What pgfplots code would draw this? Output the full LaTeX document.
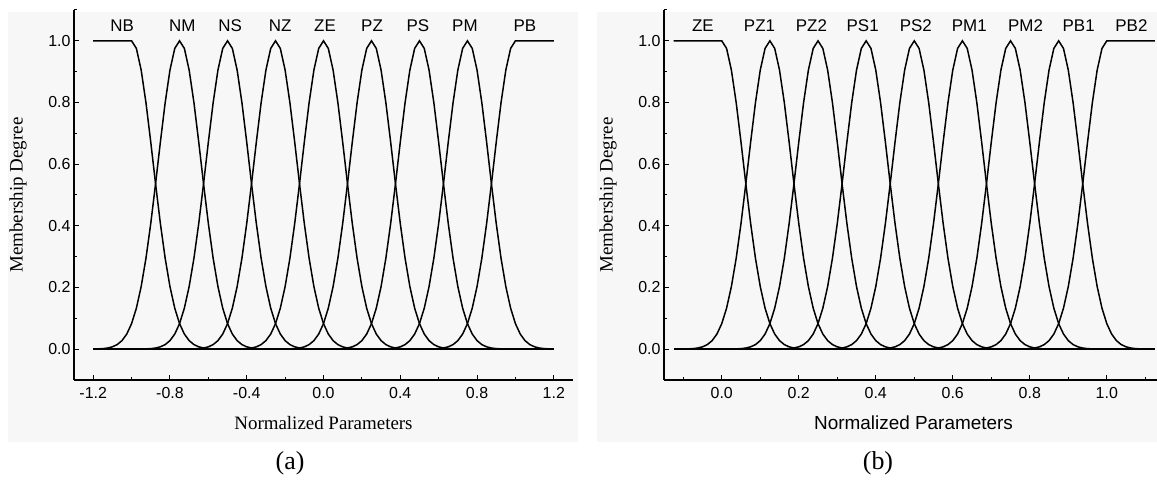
\documentclass[border=0pt]{standalone}
\usepackage{fontspec}
\setmainfont{Liberation Serif}
\setsansfont{Liberation Sans}
\usepackage{pgfplots}
\pgfplotsset{compat=1.18}
\tikzset{lab/.style={font=\sffamily\fontsize{17}{17}\selectfont},
  mfc/.style={black, line width=1.5bp, mark=none}}
\begin{document}
\begin{tikzpicture}
\useasboundingbox (0bp,0bp) rectangle (1157bp,487bp);
\fill[gray!6] (8bp,45bp) rectangle (578bp,475bp);
\fill[gray!6] (597bp,45bp) rectangle (1157bp,475bp);
\pgfplotsset{
  mf/.style={
    width=499bp, height=370bp, scale only axis, anchor=south west,
    ymin=-0.1, ymax=1.1,
    axis x line*=bottom, axis y line*=left,
    axis line style={-, line width=1.3bp},
    x axis line style={-}, y axis line style={-},
    ytick={0,0.2,0.4,0.6,0.8,1.0},
    minor ytick={-0.1,0.1,0.3,0.5,0.7,0.9,1.1},
    tick align=inside,
    major tick length=5bp, minor tick length=3bp,
    tick style={black, line width=1bp},
    /pgf/number format/assume math mode=true,
    /pgf/number format/fixed, /pgf/number format/fixed zerofill, /pgf/number format/precision=1,
    tick label style={font=\sffamily\fontsize{16}{16}\selectfont},
    xticklabel style={yshift=-4bp},
    ylabel={Membership Degree},
    ylabel style={font=\rmfamily\fontsize{19}{19}\selectfont, at={(axis description cs:-0.112,0.5)}, anchor=center},
    xlabel style={at={(axis description cs:0.5,-0.116)}, anchor=center},
    clip=false,
  },
}
% ---------------- panel (a)
\begin{axis}[mf, at={(74bp,107bp)},
  xmin=-1.3, xmax=1.3,
  xtick={-1.2,-0.8,-0.4,0,0.4,0.8,1.2},
  minor xtick={-1.0,-0.6,-0.2,0.2,0.6,1.0},
  xlabel={Normalized Parameters},
  xlabel style={font=\rmfamily\fontsize{19}{19}\selectfont},
]
\addplot[black, line width=2.6bp] coordinates {(-1.2,0) (1.2,0)};
% NB
\addplot[mfc] coordinates {(-1.2,1) (-1,1) (-0.975,.9754) (-0.95,.9052) (-0.925,.7992) (-0.9,.6713) (-0.875,.5364) (-0.85,.4078) (-0.825,.2950) (-0.8,.2030) (-0.775,.1329) (-0.75,.0828) (-0.725,.0491) (-0.7,.0277) (-0.675,.0148) (-0.65,.0076) (-0.625,.0037) (-0.6,.0017) (-0.55,.0003)};
% NM
\addplot[mfc] coordinates {(-1.2,.0003) (-1.15,.0017) (-1.125,.0037) (-1.1,.0076) (-1.075,.0148) (-1.05,.0277) (-1.025,.0491) (-1,.0828) (-0.975,.1329) (-0.95,.2030) (-0.925,.2950) (-0.9,.4078) (-0.875,.5364) (-0.85,.6713) (-0.825,.7992) (-0.8,.9052) (-0.775,.9754) (-0.75,1) (-0.725,.9754) (-0.7,.9052) (-0.675,.7992) (-0.65,.6713) (-0.625,.5364) (-0.6,.4078) (-0.575,.2950) (-0.55,.2030) (-0.525,.1329) (-0.5,.0828) (-0.475,.0491) (-0.45,.0277) (-0.425,.0148) (-0.4,.0076) (-0.375,.0037) (-0.35,.0017) (-0.3,.0003)};
% NS
\addplot[mfc] coordinates {(-0.95,.0003) (-0.9,.0017) (-0.875,.0037) (-0.85,.0076) (-0.825,.0148) (-0.8,.0277) (-0.775,.0491) (-0.75,.0828) (-0.725,.1329) (-0.7,.2030) (-0.675,.2950) (-0.65,.4078) (-0.625,.5364) (-0.6,.6713) (-0.575,.7992) (-0.55,.9052) (-0.525,.9754) (-0.5,1) (-0.475,.9754) (-0.45,.9052) (-0.425,.7992) (-0.4,.6713) (-0.375,.5364) (-0.35,.4078) (-0.325,.2950) (-0.3,.2030) (-0.275,.1329) (-0.25,.0828) (-0.225,.0491) (-0.2,.0277) (-0.175,.0148) (-0.15,.0076) (-0.125,.0037) (-0.1,.0017) (-0.05,.0003)};
% NZ
\addplot[mfc] coordinates {(-0.7,.0003) (-0.65,.0017) (-0.625,.0037) (-0.6,.0076) (-0.575,.0148) (-0.55,.0277) (-0.525,.0491) (-0.5,.0828) (-0.475,.1329) (-0.45,.2030) (-0.425,.2950) (-0.4,.4078) (-0.375,.5364) (-0.35,.6713) (-0.325,.7992) (-0.3,.9052) (-0.275,.9754) (-0.25,1) (-0.225,.9754) (-0.2,.9052) (-0.175,.7992) (-0.15,.6713) (-0.125,.5364) (-0.1,.4078) (-0.075,.2950) (-0.05,.2030) (-0.025,.1329) (0,.0828) (0.025,.0491) (0.05,.0277) (0.075,.0148) (0.1,.0076) (0.125,.0037) (0.15,.0017) (0.2,.0003)};
% ZE
\addplot[mfc] coordinates {(-0.45,.0003) (-0.4,.0017) (-0.375,.0037) (-0.35,.0076) (-0.325,.0148) (-0.3,.0277) (-0.275,.0491) (-0.25,.0828) (-0.225,.1329) (-0.2,.2030) (-0.175,.2950) (-0.15,.4078) (-0.125,.5364) (-0.1,.6713) (-0.075,.7992) (-0.05,.9052) (-0.025,.9754) (0,1) (0.025,.9754) (0.05,.9052) (0.075,.7992) (0.1,.6713) (0.125,.5364) (0.15,.4078) (0.175,.2950) (0.2,.2030) (0.225,.1329) (0.25,.0828) (0.275,.0491) (0.3,.0277) (0.325,.0148) (0.35,.0076) (0.375,.0037) (0.4,.0017) (0.45,.0003)};
% PZ
\addplot[mfc] coordinates {(-0.2,.0003) (-0.15,.0017) (-0.125,.0037) (-0.1,.0076) (-0.075,.0148) (-0.05,.0277) (-0.025,.0491) (0,.0828) (0.025,.1329) (0.05,.2030) (0.075,.2950) (0.1,.4078) (0.125,.5364) (0.15,.6713) (0.175,.7992) (0.2,.9052) (0.225,.9754) (0.25,1) (0.275,.9754) (0.3,.9052) (0.325,.7992) (0.35,.6713) (0.375,.5364) (0.4,.4078) (0.425,.2950) (0.45,.2030) (0.475,.1329) (0.5,.0828) (0.525,.0491) (0.55,.0277) (0.575,.0148) (0.6,.0076) (0.625,.0037) (0.65,.0017) (0.7,.0003)};
% PS
\addplot[mfc] coordinates {(0.05,.0003) (0.1,.0017) (0.125,.0037) (0.15,.0076) (0.175,.0148) (0.2,.0277) (0.225,.0491) (0.25,.0828) (0.275,.1329) (0.3,.2030) (0.325,.2950) (0.35,.4078) (0.375,.5364) (0.4,.6713) (0.425,.7992) (0.45,.9052) (0.475,.9754) (0.5,1) (0.525,.9754) (0.55,.9052) (0.575,.7992) (0.6,.6713) (0.625,.5364) (0.65,.4078) (0.675,.2950) (0.7,.2030) (0.725,.1329) (0.75,.0828) (0.775,.0491) (0.8,.0277) (0.825,.0148) (0.85,.0076) (0.875,.0037) (0.9,.0017) (0.95,.0003)};
% PM
\addplot[mfc] coordinates {(0.3,.0003) (0.35,.0017) (0.375,.0037) (0.4,.0076) (0.425,.0148) (0.45,.0277) (0.475,.0491) (0.5,.0828) (0.525,.1329) (0.55,.2030) (0.575,.2950) (0.6,.4078) (0.625,.5364) (0.65,.6713) (0.675,.7992) (0.7,.9052) (0.725,.9754) (0.75,1) (0.775,.9754) (0.8,.9052) (0.825,.7992) (0.85,.6713) (0.875,.5364) (0.9,.4078) (0.925,.2950) (0.95,.2030) (0.975,.1329) (1,.0828) (1.025,.0491) (1.05,.0277) (1.075,.0148) (1.1,.0076) (1.125,.0037) (1.15,.0017) (1.2,.0003)};
% PB
\addplot[mfc] coordinates {(0.55,.0003) (0.6,.0017) (0.625,.0037) (0.65,.0076) (0.675,.0148) (0.7,.0277) (0.725,.0491) (0.75,.0828) (0.775,.1329) (0.8,.2030) (0.825,.2950) (0.85,.4078) (0.875,.5364) (0.9,.6713) (0.925,.7992) (0.95,.9052) (0.975,.9754) (1,1) (1.2,1)};
\node[lab] at (axis cs:-1.049,1.049) {NB};
\node[lab] at (axis cs:-0.736,1.049) {NM};
\node[lab] at (axis cs:-0.486,1.049) {NS};
\node[lab] at (axis cs:-0.226,1.049) {NZ};
\node[lab] at (axis cs:0.008,1.049) {ZE};
\node[lab] at (axis cs:0.253,1.049) {PZ};
\node[lab] at (axis cs:0.492,1.049) {PS};
\node[lab] at (axis cs:0.737,1.049) {PM};
\node[lab] at (axis cs:1.049,1.049) {PB};
\end{axis}
% ---------------- panel (b)
\begin{axis}[mf, at={(664bp,107bp)},
  xmin=-0.15, xmax=1.146,
  xtick={0,0.2,0.4,0.6,0.8,1.0},
  minor xtick={-0.1,0.1,0.3,0.5,0.7,0.9,1.1},
  xlabel={Normalized Parameters},
  xlabel style={font=\sffamily\fontsize{19}{19}\selectfont},
]
\addplot[black, line width=2.6bp] coordinates {(-0.125,0) (1.125,0)};
% ZE
\addplot[mfc] coordinates {(-0.125,1) (0,1) (0.0125,.9754) (0.025,.9052) (0.0375,.7992) (0.05,.6713) (0.0625,.5364) (0.075,.4078) (0.0875,.2950) (0.1,.2030) (0.1125,.1329) (0.125,.0828) (0.1375,.0491) (0.15,.0277) (0.1625,.0148) (0.175,.0076) (0.1875,.0037) (0.2,.0017) (0.225,.0003)};
% PZ1
\addplot[mfc] coordinates {(-0.1,.0003) (-0.075,.0017) (-0.0625,.0037) (-0.05,.0076) (-0.0375,.0148) (-0.025,.0277) (-0.0125,.0491) (0,.0828) (0.0125,.1329) (0.025,.2030) (0.0375,.2950) (0.05,.4078) (0.0625,.5364) (0.075,.6713) (0.0875,.7992) (0.1,.9052) (0.1125,.9754) (0.125,1) (0.1375,.9754) (0.15,.9052) (0.1625,.7992) (0.175,.6713) (0.1875,.5364) (0.2,.4078) (0.2125,.2950) (0.225,.2030) (0.2375,.1329) (0.25,.0828) (0.2625,.0491) (0.275,.0277) (0.2875,.0148) (0.3,.0076) (0.3125,.0037) (0.325,.0017) (0.35,.0003)};
% PZ2
\addplot[mfc] coordinates {(0.025,.0003) (0.05,.0017) (0.0625,.0037) (0.075,.0076) (0.0875,.0148) (0.1,.0277) (0.1125,.0491) (0.125,.0828) (0.1375,.1329) (0.15,.2030) (0.1625,.2950) (0.175,.4078) (0.1875,.5364) (0.2,.6713) (0.2125,.7992) (0.225,.9052) (0.2375,.9754) (0.25,1) (0.2625,.9754) (0.275,.9052) (0.2875,.7992) (0.3,.6713) (0.3125,.5364) (0.325,.4078) (0.3375,.2950) (0.35,.2030) (0.3625,.1329) (0.375,.0828) (0.3875,.0491) (0.4,.0277) (0.4125,.0148) (0.425,.0076) (0.4375,.0037) (0.45,.0017) (0.475,.0003)};
% PS1
\addplot[mfc] coordinates {(0.15,.0003) (0.175,.0017) (0.1875,.0037) (0.2,.0076) (0.2125,.0148) (0.225,.0277) (0.2375,.0491) (0.25,.0828) (0.2625,.1329) (0.275,.2030) (0.2875,.2950) (0.3,.4078) (0.3125,.5364) (0.325,.6713) (0.3375,.7992) (0.35,.9052) (0.3625,.9754) (0.375,1) (0.3875,.9754) (0.4,.9052) (0.4125,.7992) (0.425,.6713) (0.4375,.5364) (0.45,.4078) (0.4625,.2950) (0.475,.2030) (0.4875,.1329) (0.5,.0828) (0.5125,.0491) (0.525,.0277) (0.5375,.0148) (0.55,.0076) (0.5625,.0037) (0.575,.0017) (0.6,.0003)};
% PS2
\addplot[mfc] coordinates {(0.275,.0003) (0.3,.0017) (0.3125,.0037) (0.325,.0076) (0.3375,.0148) (0.35,.0277) (0.3625,.0491) (0.375,.0828) (0.3875,.1329) (0.4,.2030) (0.4125,.2950) (0.425,.4078) (0.4375,.5364) (0.45,.6713) (0.4625,.7992) (0.475,.9052) (0.4875,.9754) (0.5,1) (0.5125,.9754) (0.525,.9052) (0.5375,.7992) (0.55,.6713) (0.5625,.5364) (0.575,.4078) (0.5875,.2950) (0.6,.2030) (0.6125,.1329) (0.625,.0828) (0.6375,.0491) (0.65,.0277) (0.6625,.0148) (0.675,.0076) (0.6875,.0037) (0.7,.0017) (0.725,.0003)};
% PM1
\addplot[mfc] coordinates {(0.4,.0003) (0.425,.0017) (0.4375,.0037) (0.45,.0076) (0.4625,.0148) (0.475,.0277) (0.4875,.0491) (0.5,.0828) (0.5125,.1329) (0.525,.2030) (0.5375,.2950) (0.55,.4078) (0.5625,.5364) (0.575,.6713) (0.5875,.7992) (0.6,.9052) (0.6125,.9754) (0.625,1) (0.6375,.9754) (0.65,.9052) (0.6625,.7992) (0.675,.6713) (0.6875,.5364) (0.7,.4078) (0.7125,.2950) (0.725,.2030) (0.7375,.1329) (0.75,.0828) (0.7625,.0491) (0.775,.0277) (0.7875,.0148) (0.8,.0076) (0.8125,.0037) (0.825,.0017) (0.85,.0003)};
% PM2
\addplot[mfc] coordinates {(0.525,.0003) (0.55,.0017) (0.5625,.0037) (0.575,.0076) (0.5875,.0148) (0.6,.0277) (0.6125,.0491) (0.625,.0828) (0.6375,.1329) (0.65,.2030) (0.6625,.2950) (0.675,.4078) (0.6875,.5364) (0.7,.6713) (0.7125,.7992) (0.725,.9052) (0.7375,.9754) (0.75,1) (0.7625,.9754) (0.775,.9052) (0.7875,.7992) (0.8,.6713) (0.8125,.5364) (0.825,.4078) (0.8375,.2950) (0.85,.2030) (0.8625,.1329) (0.875,.0828) (0.8875,.0491) (0.9,.0277) (0.9125,.0148) (0.925,.0076) (0.9375,.0037) (0.95,.0017) (0.975,.0003)};
% PB1
\addplot[mfc] coordinates {(0.65,.0003) (0.675,.0017) (0.6875,.0037) (0.7,.0076) (0.7125,.0148) (0.725,.0277) (0.7375,.0491) (0.75,.0828) (0.7625,.1329) (0.775,.2030) (0.7875,.2950) (0.8,.4078) (0.8125,.5364) (0.825,.6713) (0.8375,.7992) (0.85,.9052) (0.8625,.9754) (0.875,1) (0.8875,.9754) (0.9,.9052) (0.9125,.7992) (0.925,.6713) (0.9375,.5364) (0.95,.4078) (0.9625,.2950) (0.975,.2030) (0.9875,.1329) (1,.0828) (1.0125,.0491) (1.025,.0277) (1.0375,.0148) (1.05,.0076) (1.0625,.0037) (1.075,.0017) (1.1,.0003)};
% PB2
\addplot[mfc] coordinates {(0.775,.0003) (0.8,.0017) (0.8125,.0037) (0.825,.0076) (0.8375,.0148) (0.85,.0277) (0.8625,.0491) (0.875,.0828) (0.8875,.1329) (0.9,.2030) (0.9125,.2950) (0.925,.4078) (0.9375,.5364) (0.95,.6713) (0.9625,.7992) (0.975,.9052) (0.9875,.9754) (1,1) (1.125,1)};
\node[lab] at (axis cs:-0.049,1.049) {ZE};
\node[lab] at (axis cs:0.098,1.049) {PZ1};
\node[lab] at (axis cs:0.233,1.049) {PZ2};
\node[lab] at (axis cs:0.366,1.049) {PS1};
\node[lab] at (axis cs:0.504,1.049) {PS2};
\node[lab] at (axis cs:0.643,1.049) {PM1};
\node[lab] at (axis cs:0.789,1.049) {PM2};
\node[lab] at (axis cs:0.927,1.049) {PB1};
\node[lab] at (axis cs:1.064,1.049) {PB2};
\end{axis}
\node[font=\rmfamily\fontsize{26}{26}\selectfont] at (290bp,24bp) {(a)};
\node[font=\rmfamily\fontsize{26}{26}\selectfont] at (878bp,24bp) {(b)};
\end{tikzpicture}
\end{document}
